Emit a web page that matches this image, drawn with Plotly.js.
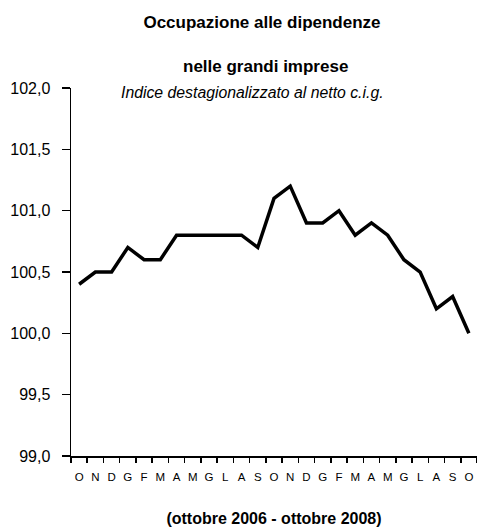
<!DOCTYPE html>
<html>
<head>
<meta charset="utf-8">
<script src="https://cdn.plot.ly/plotly-3.0.1.min.js"></script>
<style>html,body{margin:0;padding:0;background:#fff;}#chart{width:477px;height:527px;}</style>
</head>
<body>
<div id="chart"></div>
<script>
var monthLabels = ["O","N","D","G","F","M","A","M","G","L","A","S","O","N","D","G","F","M","A","M","G","L","A","S","O"];
var indexValues = [100.4,100.5,100.5,100.7,100.6,100.6,100.8,100.8,100.8,100.8,100.8,100.7,101.1,101.2,100.9,100.9,101.0,100.8,100.9,100.8,100.6,100.5,100.2,100.3,100.0];
var titleLine1 = "Occupazione alle dipendenze";
var titleLine2 = "nelle grandi imprese";
var subtitle = "Indice destagionalizzato al netto c.i.g.";
var periodLabel = "(ottobre 2006 - ottobre 2008)";

var positions = monthLabels.map(function(_, i){ return i; });
var fam = "Liberation Sans, Arial, sans-serif";

var trace = {
  x: positions,
  y: indexValues,
  type: "scatter",
  mode: "lines",
  line: {color: "#000", width: 3.5},
  hoverinfo: "skip"
};

var layout = {
  width: 477, height: 527,
  margin: {l: 71, r: 0, t: 88, b: 71, pad: 0},
  paper_bgcolor: "#fff", plot_bgcolor: "#fff",
  showlegend: false,
  separators: ", ",
  title: {
    text: titleLine1,
    font: {family: fam, size: 17, color: "#000", weight: "bold"},
    x: 262/477, xanchor: "center", xref: "container",
    y: 1 - 22/527, yanchor: "middle", yref: "container"
  },
  xaxis: {
    range: [-0.5, 24.5],
    tickmode: "array", tickvals: positions, ticktext: monthLabels,
    ticks: "", showgrid: false, zeroline: false,
    showline: true, linecolor: "#000", linewidth: 1.5,
    tickfont: {family: fam, size: 11.5, color: "#000"},
    ticklabelstandoff: 10,
    minor: {tick0: -0.5, dtick: 1, ticks: "outside", ticklen: 5, tickwidth: 1.5, tickcolor: "#000", showgrid: false},
    title: {text: periodLabel, font: {family: fam, size: 16, color: "#000", weight: "bold"}, standoff: 30},
    fixedrange: true
  },
  yaxis: {
    range: [99, 102], dtick: 0.5, tick0: 99, tickformat: ".1f",
    ticks: "outside", ticklen: 8, tickwidth: 1.5, tickcolor: "#000",
    showgrid: false, zeroline: false,
    showline: true, linecolor: "#000", linewidth: 1.5,
    tickfont: {family: fam, size: 16, color: "#000"},
    ticklabelstandoff: 8,
    fixedrange: true
  },
  annotations: [
    {text: titleLine2, xref: "paper", yref: "paper", x: (265-71)/406, y: (455.5-66)/367.8,
     xanchor: "center", yanchor: "middle", showarrow: false,
     font: {family: fam, size: 17, color: "#000", weight: "bold"}},
    {text: subtitle, xref: "paper", yref: "paper", x: (252-71)/406, y: (455.5-92)/367.8,
     xanchor: "center", yanchor: "middle", showarrow: false,
     font: {family: fam, size: 15.8, color: "#000", style: "italic"}}
  ]
};

Plotly.newPlot("chart", [trace], layout, {displayModeBar: false, staticPlot: true});
</script>
</body>
</html>
